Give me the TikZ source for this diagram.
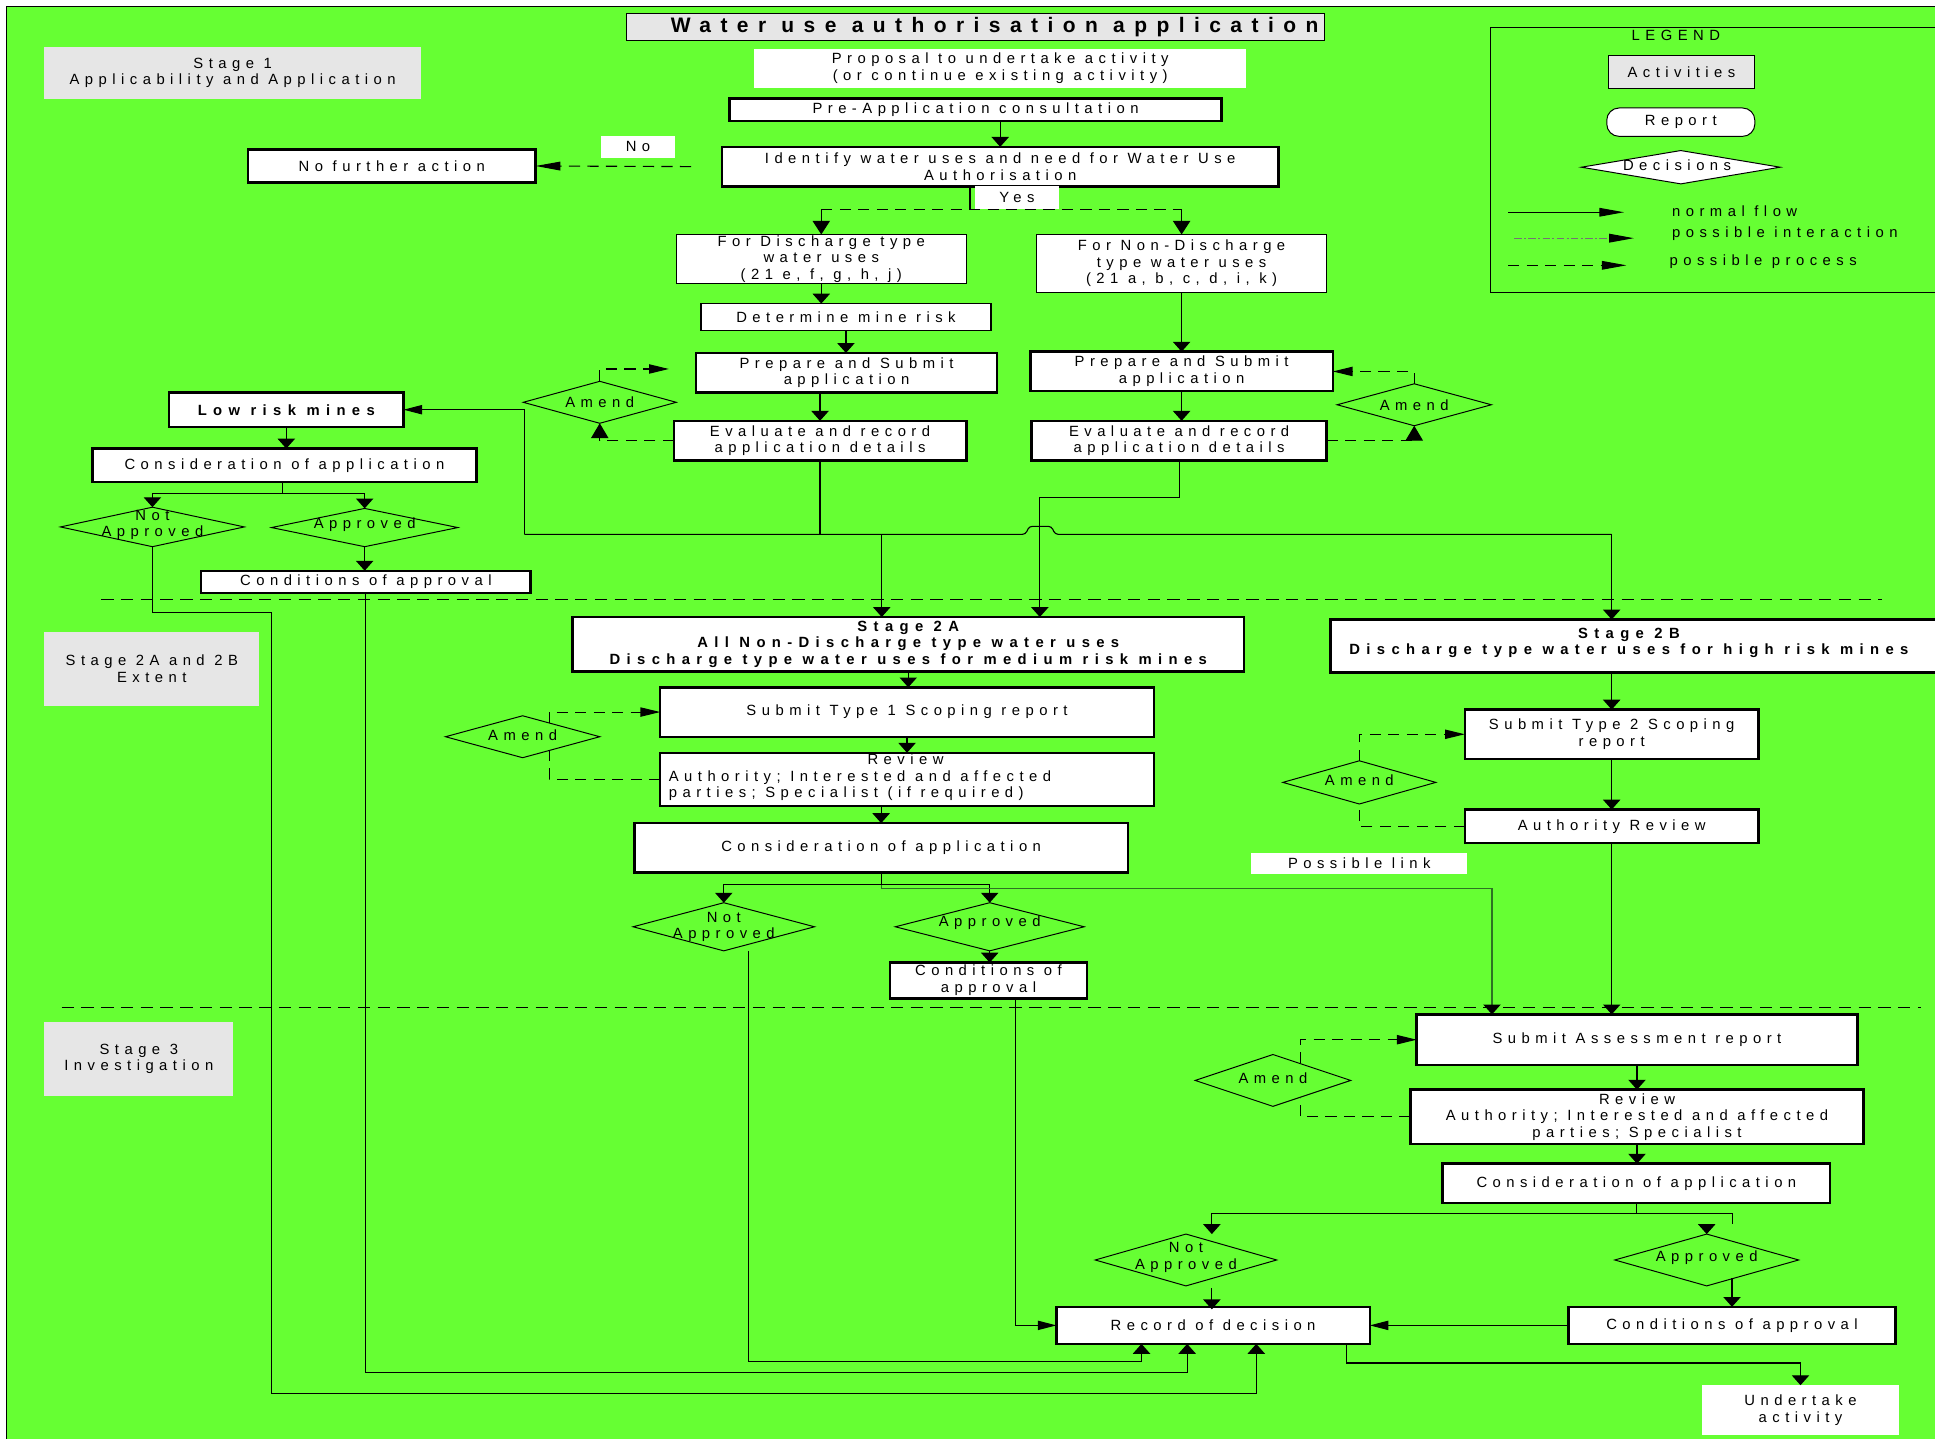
\documentclass[tikz,border=0pt]{standalone}
\usepackage{fontspec}
\setmainfont{Liberation Sans}[LetterSpace=37,Ligatures=NoCommon,BoldFeatures={LetterSpace=43}]
\newfontfamily\titlefont{Liberation Sans}[LetterSpace=45,Ligatures=NoCommon]
\usetikzlibrary{arrows.meta,shapes.geometric}
\definecolor{bggreen}{RGB}{102,255,51}
\definecolor{boxgray}{RGB}{230,230,230}
\definecolor{linkgreen}{RGB}{45,115,35}
\begin{document}
\begin{tikzpicture}[x=1pt,y=-1pt,
  every node/.style={inner sep=0pt, outer sep=0pt, font=\fontsize{12}{13.5}\selectfont, align=center},
  tbox/.style={rectangle, draw=black, line width=0.9pt, fill=white},
  kbox/.style={rectangle, draw=black, line width=2pt, fill=white},
  wbox/.style={rectangle, fill=white},
  gbox/.style={rectangle, fill=boxgray},
  dec/.style={diamond, draw=black, line width=0.8pt},
  boldtxt/.style={font=\fontsize{12}{13.5}\selectfont\bfseries},
  conn/.style={line width=0.9pt},
  vflow/.style={conn, -{Triangle[length=8pt,width=14pt]}},
  vflowb/.style={conn, -{Triangle[length=11pt,width=14pt]}},
  hflow/.style={conn, -{Triangle[length=15pt,width=7.5pt]}},
  hflowl/.style={conn, -{Triangle[length=20pt,width=7pt]}},
  dconn/.style={conn, dash pattern=on 9pt off 6pt},
  sepline/.style={line width=0.8pt, dash pattern=on 10pt off 6pt},
]
% background
\useasboundingbox (0,0) rectangle (1568,1166);
\fill[white] (0,0) rectangle (1568,1166);
\fill[bggreen] (5.5,5.5) rectangle (1568,1166);
\draw[line width=1pt] (5.5,1166) -- (5.5,5.5) -- (1568,5.5);

% ---------- title and stage labels
\node[gbox, draw=black, line width=0.8pt, minimum width=565pt, minimum height=22pt] (title) at (790.5,22) {};
\node[font=\titlefont\fontsize{17}{20}\selectfont\bfseries] (titletext) at (806,22) {Water use authorisation application};
\node[gbox, minimum width=305pt, minimum height=42pt] (st1) at (188.5,59) {Stage 1\\Applicability and Application};
\node[gbox, minimum width=174pt, minimum height=60pt] (ext) at (123,542) {Stage 2A and 2B\\Extent};
\node[gbox, minimum width=153pt, minimum height=60pt, font=\fontsize{12}{12.5}\selectfont] (st3) at (112.5,858) {Stage 3\\Investigation};

% ---------- legend
\node[rectangle, draw=black, line width=0.8pt, minimum width=372pt, minimum height=215pt] (leg) at (1394,129.5) {};
\node (legt) at (1358,29) {LEGEND};
\node[gbox, draw=black, line width=0.8pt, minimum width=119pt, minimum height=27pt] (lact) at (1362.5,58.5) {Activities};
\node[rectangle, rounded corners=10pt, draw=black, line width=0.8pt, fill=white, minimum width=120pt, minimum height=23pt] (lrep) at (1362,99) {Report};
\node[dec, fill=white, minimum width=161pt, minimum height=27pt] (ldec) at (1362,135.5) {};
\node (ldect) at (1359,134) {Decisions};
\coordinate (ln1a) at (1222,172); \coordinate (ln1b) at (1316,172);
\coordinate (ln2a) at (1227,193); \coordinate (ln2b) at (1324,193);
\coordinate (ln3a) at (1222,215); \coordinate (ln3b) at (1318,215);
\draw[hflowl] (ln1a) -- (ln1b);
\draw[conn, draw=black!55, dash pattern=on 6pt off 2pt on 1.5pt off 2pt, -{Triangle[length=20pt,width=7pt,color=black]}] (ln2a) -- (ln2b);
\draw[dconn, -{Triangle[length=20pt,width=7pt]}] (ln3a) -- (ln3b);
\node[anchor=west] (ln1t) at (1355,171) {normal flow};
\node[anchor=west] (ln2t) at (1355,189.5) {possible interaction};
\node[anchor=west] (ln3t) at (1353,212) {possible process};

% ---------- stage 1 nodes
\node[wbox, minimum width=399pt, minimum height=31pt] (prop) at (810.5,55.5) {Proposal to undertake activity\\(or continue existing activity)};
\node[kbox, minimum width=399pt, minimum height=18pt] (preapp) at (790.5,89) {Pre-Application consultation};
\node[kbox, minimum width=451pt, minimum height=32pt] (ident) at (810.5,135) {Identify water uses and need for Water Use\\Authorisation};
\node[wbox, minimum width=60pt, minimum height=18pt] (nolbl) at (517,119) {No};
\node[kbox, minimum width=233pt, minimum height=27pt] (nofa) at (317.5,134.5) {No further action};
\node[wbox, minimum width=68pt, minimum height=18pt] (yeslbl) at (824,160) {Yes};
\node[tbox, minimum width=235pt, minimum height=40pt] (dis) at (665.5,210) {For Discharge type\\water uses\\(21 e, f, g, h, j)};
\node[tbox, minimum width=235pt, minimum height=47pt] (ndis) at (957.5,213.5) {For Non-Discharge\\type water uses\\(21 a, b, c, d, i, k)};
\node[tbox, minimum width=235pt, minimum height=22pt] (det) at (685.5,257) {Determine mine risk};
\node[kbox, minimum width=244pt, minimum height=32pt] (prep1) at (686,302) {Prepare and Submit\\application};
\node[kbox, minimum width=237pt, minimum height=32pt] (eval1) at (664.5,357) {Evaluate and record\\application details};
\node[kbox, minimum width=245pt, minimum height=32pt] (prep2) at (957.5,301) {Prepare and Submit\\application};
\node[kbox, minimum width=239pt, minimum height=32pt] (eval2) at (955.5,357) {Evaluate and record\\application details};
\node[dec, minimum width=124pt, minimum height=34pt] (am1) at (486,326) {};
\node (am1t) at (am1) {Amend};
\node[dec, minimum width=125pt, minimum height=34pt] (am2) at (1146,328) {};
\node (am2t) at (am2) {Amend};
\node[kbox, boldtxt, minimum width=190pt, minimum height=28pt] (low) at (232,332) {Low risk mines};
\node[kbox, minimum width=311pt, minimum height=27pt] (con1) at (230.5,377) {Consideration of application};
\node[dec, minimum width=149pt, minimum height=32pt] (na1) at (123.5,427) {};
\node (na1t) at ([yshift=1.5pt]na1.center) {Not\\Approved};
\node[dec, minimum width=151pt, minimum height=31pt] (ap1) at (295.5,427.5) {};
\node (ap1t) at ([yshift=2pt]ap1.center) {Approved};
\node[kbox, minimum width=267pt, minimum height=18pt] (cnd1) at (296.5,471.5) {Conditions of approval};

% ---------- stage 2 nodes
\node[kbox, boldtxt, minimum width=544pt, minimum height=44pt] (s2a) at (736,522) {Stage 2A\\All Non-Discharge type water uses\\Discharge type water uses for medium risk mines};
\node[kbox, minimum width=502pt, minimum height=43pt] (s2b) at (1329,523.5) {};
\node[boldtxt] (s2bt) at (1320,521) {Stage 2B\\Discharge type water uses for high risk mines};
\node[kbox, minimum width=400pt, minimum height=40pt] (sub1) at (735,577) {Submit Type 1 Scoping report};
\node[kbox, minimum width=400pt, minimum height=43pt] (rev2a) at (735,631.5) {};
\node[anchor=west, align=left] (rev2at) at ([xshift=7pt,yshift=1.5pt]rev2a.west) {\hspace*{161pt}Review\\Authority; Interested and affected\\parties; Specialist (if required)};
\node[dec, minimum width=125pt, minimum height=34pt] (am2a) at (423.5,597) {};
\node (am2at) at ([yshift=1pt]am2a.center) {Amend};
\node[kbox, minimum width=400pt, minimum height=40pt] (con2a) at (714,687) {Consideration of application};
\node[dec, minimum width=147pt, minimum height=39pt] (na2a) at (586.5,751) {};
\node (na2at) at (na2a) {Not\\Approved};
\node[dec, minimum width=153pt, minimum height=39pt] (ap2a) at (802,751) {};
\node (ap2at) at ([yshift=3pt]ap2a.center) {Approved};
\node[kbox, minimum width=160pt, minimum height=29pt] (cnd2a) at (801,794.5) {Conditions of\\approval};
\node[kbox, minimum width=238pt, minimum height=40pt] (sub2) at (1306,595) {Submit Type 2 Scoping\\report};
\node[kbox, minimum width=238pt, minimum height=27pt] (arev) at (1306,669.5) {Authority Review};
\node[dec, minimum width=124pt, minimum height=35pt] (am2b) at (1101.5,634) {};
\node (am2bt) at ([yshift=1.5pt]am2b.center) {Amend};
\node[wbox, minimum width=175pt, minimum height=17pt] (plink) at (1101.5,699.5) {Possible link};

% ---------- stage 3 nodes
\node[kbox, minimum width=357pt, minimum height=41pt] (subas) at (1326.5,842.5) {Submit Assessment report};
\node[dec, minimum width=126pt, minimum height=42pt] (am3) at (1031.5,875.5) {};
\node (am3t) at ([yshift=2pt]am3.center) {Amend};
\node[kbox, minimum width=367pt, minimum height=44pt] (rev3) at (1326.5,905) {Review\\Authority; Interested and affected\\parties; Specialist};
\node[kbox, minimum width=314pt, minimum height=32pt] (con3) at (1326,959) {Consideration of application};
\node[dec, minimum width=147pt, minimum height=42pt] (na3) at (961,1021) {};
\node (na3t) at ([yshift=2pt]na3.center) {Not\\Approved};
\node[dec, minimum width=149pt, minimum height=42pt] (ap3) at (1383,1021) {};
\node (ap3t) at ([yshift=2pt]ap3.center) {Approved};
\node[kbox, minimum width=265pt, minimum height=30pt] (cnd3) at (1403.5,1074) {Conditions of approval};
\node[kbox, minimum width=254pt, minimum height=30pt] (rec) at (983,1074) {Record of decision};
\node[wbox, minimum width=159pt, minimum height=40pt] (und) at (1459,1142.5) {Undertake\\activity};

% ---------- separators
\draw[sepline] (82,485.5) -- (1525,485.5);
\draw[sepline] (50,816.5) -- (1557,816.5);

% ---------- stage 1 connectors
\draw[vflow] (preapp.south -| ident.north) -- (ident.north);
\draw[dconn, -{Triangle[length=20pt,width=7pt]}] ([xshift=-25pt]ident.west) -- (nofa.east);
\coordinate (yj) at (786,170);
\draw[conn] (ident.south -| yj) -- (yj);
\draw[dconn] (yj -| dis.north) -- (yj -| ndis.north);
\draw[vflowb] (yj -| dis.north) -- (dis.north);
\draw[vflowb] (yj -| ndis.north) -- (ndis.north);
\draw[vflow] (dis.south) -- (dis.south |- det.north);
\draw[vflow] (det.south) -- (det.south |- prep1.north);
\draw[vflow] (prep1.south -| eval1.north) -- (eval1.north);
\draw[vflow] (ndis.south) -- (ndis.south |- prep2.north);
\draw[vflow] (prep2.south) -- (prep2.south |- eval2.north);
\draw[dconn, -{Triangle[length=12pt,width=14pt]}] (eval1.west) -| (am1.south);
\draw[dconn, -{Triangle[length=16pt,width=7.5pt]}] (am1.north) |- ([xshift=-22pt,yshift=3pt]prep1.west);
\draw[dconn, -{Triangle[length=12pt,width=14pt]}] (eval2.east) -| (am2.south);
\draw[dconn, -{Triangle[length=16pt,width=7.5pt]}] (am2.north) |- (prep2.east);

\coordinate (jL) at (425,433);
\coordinate (j2a) at (714.5,433);
\coordinate (jR) at (1306,433);
\coordinate (e2k) at (842.6,403);
\draw[conn] (eval1.south) -- (eval1.south |- jL);
\draw[conn, rounded corners=2.5pt] (jL) -- (831,433) -- (834,426.5) -- (852,426.5) -- (855,433) -- (jR);
\draw[hflow] (jL) |- (low.east);
\draw[vflow] (j2a) -- (j2a |- s2a.north);
\draw[vflow] (jR) -- (jR |- s2b.north);
\draw[vflow] (eval2.south) |- (e2k) -- (e2k |- s2a.north);

\draw[vflow] (low.south) -- (low.south |- con1.north);
\coordinate (c1s) at (229,400);
\draw[conn] (con1.south -| c1s) -- (c1s);
\draw[vflow] (c1s) -| (na1.north);
\draw[vflow] (c1s) -| (ap1.north);
\draw[vflow] (ap1.south) -- (ap1.south |- cnd1.north);

\coordinate (b1r) at (220,496);
\coordinate (b1d) at (220,1129);
\draw[vflow] (na1.south) |- (b1r) -- (b1d) -| ([xshift=35pt]rec.south);
\coordinate (b2d) at (296.5,1112.5);
\draw[vflow] (cnd1.south) -- (b2d) -| ([xshift=-21pt]rec.south);

% ---------- stage 2 connectors
\coordinate (b3d) at (606.5,1103);
\draw[vflow] ([xshift=20pt]na2a.south) -- (b3d) -| ([xshift=-58pt]rec.south);
\draw[hflow] ([xshift=22pt]cnd2a.south) |- (rec.west);

\draw[vflow] (s2a.south) -- (s2a.south |- sub1.north);
\draw[vflow] (sub1.south) -- (sub1.south |- rev2a.north);
\draw[vflow] (rev2a.south -| con2a.north) -- (con2a.north);
\draw[dconn, -{Triangle[length=16pt,width=7.5pt]}] ([xshift=21.5pt,yshift=11pt]am2a.center) |- (sub1.west);
\draw[dconn] (rev2a.west) -| ([xshift=21.5pt,yshift=-11pt]am2a.center);

\coordinate (c2s) at (714,717);
\draw[conn] (con2a.south) -- (c2s);
\draw[vflow] (c2s) -| (na2a.north);
\draw[vflow] (c2s) -| (ap2a.north);
\draw[vflow] (ap2a.south) -- (ap2a.south |- cnd2a.north);
\coordinate (plk) at (714,720);
\draw[conn, draw=linkgreen, -{Triangle[length=8pt,width=14pt,color=black]}] (c2s) -- (plk) -| ([xshift=-117.5pt]subas.north);

\draw[vflow] (s2b.south -| sub2.north) -- (sub2.north);
\draw[vflow] (sub2.south) -- (arev.north);
\draw[vflow] (arev.south) -- (arev.south |- subas.north);
\draw[dconn, -{Triangle[length=16pt,width=7.5pt]}] (am2b.north) |- (sub2.west);
\draw[dconn] (arev.west) -| (am2b.south);

% ---------- stage 3 connectors
\draw[dconn, -{Triangle[length=16pt,width=7.5pt]}] ([xshift=22pt,yshift=14pt]am3.center) |- (subas.west);
\draw[dconn] (rev3.west) -| ([xshift=22pt,yshift=-14pt]am3.center);
\draw[vflow] (subas.south) -- (subas.south |- rev3.north);
\draw[vflow] (rev3.south) -- (rev3.south |- con3.north);
\coordinate (c3s) at (1326,983);
\draw[conn] (con3.south) -- (c3s);
\draw[vflow] (c3s) -| ([xshift=21pt]na3.north);
\draw[conn] (c3s) -| ([xshift=21pt,yshift=8pt]ap3.north);
\draw[vflow] ([yshift=8pt]ap3.north) -- (ap3.north);
\draw[vflow] ([xshift=20.5pt,yshift=-15pt]ap3.center) -- (cnd3.north);
\draw[vflow] ([xshift=21pt,yshift=-2pt]na3.south) -- ([xshift=21pt,yshift=-2pt]na3.south |- rec.north);
\draw[hflow] (cnd3.west) -- (rec.east);
\coordinate (uc) at (1091,1104.5);
\draw[vflow] (rec.south -| uc) -- (uc) -| (und.north);
\end{tikzpicture}
\end{document}
